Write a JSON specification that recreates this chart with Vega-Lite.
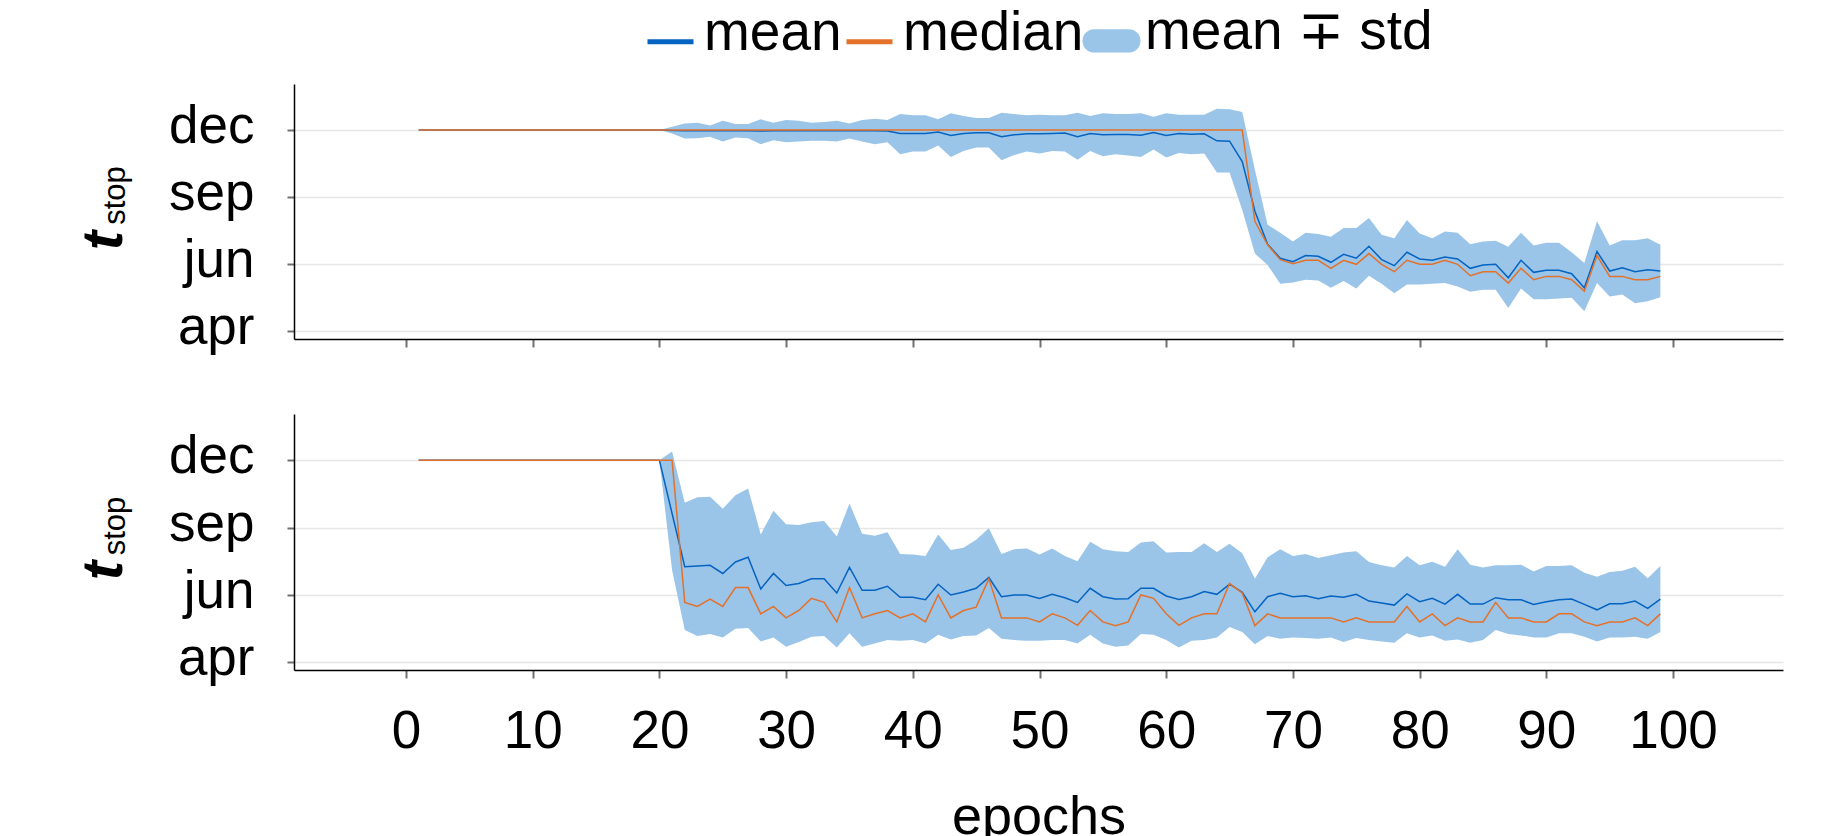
{
"$schema": "https://vega.github.io/schema/vega-lite/v6.json",
"autosize": {"type": "pad"},
"padding": {"left": 75, "top": 13, "right": 5, "bottom": 0},
"background": "white",
"datasets": {
"labels": [{"crop": "meadows"}, {"crop": "winter barley"}],
"stats": [
{"crop":"meadows","epoch":1,"mean":3,"median":3,"lo":3,"hi":3},
{"crop":"meadows","epoch":2,"mean":3,"median":3,"lo":3,"hi":3},
{"crop":"meadows","epoch":3,"mean":3,"median":3,"lo":3,"hi":3},
{"crop":"meadows","epoch":4,"mean":3,"median":3,"lo":3,"hi":3},
{"crop":"meadows","epoch":5,"mean":3,"median":3,"lo":3,"hi":3},
{"crop":"meadows","epoch":6,"mean":3,"median":3,"lo":3,"hi":3},
{"crop":"meadows","epoch":7,"mean":3,"median":3,"lo":3,"hi":3},
{"crop":"meadows","epoch":8,"mean":3,"median":3,"lo":3,"hi":3},
{"crop":"meadows","epoch":9,"mean":3,"median":3,"lo":3,"hi":3},
{"crop":"meadows","epoch":10,"mean":3,"median":3,"lo":3,"hi":3},
{"crop":"meadows","epoch":11,"mean":3,"median":3,"lo":3,"hi":3},
{"crop":"meadows","epoch":12,"mean":3,"median":3,"lo":3,"hi":3},
{"crop":"meadows","epoch":13,"mean":3,"median":3,"lo":3,"hi":3},
{"crop":"meadows","epoch":14,"mean":3,"median":3,"lo":3,"hi":3},
{"crop":"meadows","epoch":15,"mean":3,"median":3,"lo":3,"hi":3},
{"crop":"meadows","epoch":16,"mean":3,"median":3,"lo":3,"hi":3},
{"crop":"meadows","epoch":17,"mean":3,"median":3,"lo":3,"hi":3},
{"crop":"meadows","epoch":18,"mean":3,"median":3,"lo":3,"hi":3},
{"crop":"meadows","epoch":19,"mean":3,"median":3,"lo":3,"hi":3},
{"crop":"meadows","epoch":20,"mean":3,"median":3,"lo":3,"hi":3},
{"crop":"meadows","epoch":21,"mean":2.995,"median":3,"lo":2.95,"hi":3.05},
{"crop":"meadows","epoch":22,"mean":2.99,"median":3,"lo":2.875,"hi":3.10},
{"crop":"meadows","epoch":23,"mean":2.99,"median":3,"lo":2.88,"hi":3.11},
{"crop":"meadows","epoch":24,"mean":2.99,"median":3,"lo":2.90,"hi":3.07},
{"crop":"meadows","epoch":25,"mean":2.99,"median":3,"lo":2.83,"hi":3.14},
{"crop":"meadows","epoch":26,"mean":2.99,"median":3,"lo":2.89,"hi":3.09},
{"crop":"meadows","epoch":27,"mean":2.99,"median":3,"lo":2.88,"hi":3.09},
{"crop":"meadows","epoch":28,"mean":2.985,"median":3,"lo":2.79,"hi":3.16},
{"crop":"meadows","epoch":29,"mean":2.99,"median":3,"lo":2.85,"hi":3.11},
{"crop":"meadows","epoch":30,"mean":2.99,"median":3,"lo":2.82,"hi":3.15},
{"crop":"meadows","epoch":31,"mean":2.99,"median":3,"lo":2.83,"hi":3.14},
{"crop":"meadows","epoch":32,"mean":2.99,"median":3,"lo":2.84,"hi":3.11},
{"crop":"meadows","epoch":33,"mean":2.99,"median":3,"lo":2.84,"hi":3.12},
{"crop":"meadows","epoch":34,"mean":2.99,"median":3,"lo":2.83,"hi":3.14},
{"crop":"meadows","epoch":35,"mean":2.99,"median":3,"lo":2.875,"hi":3.10},
{"crop":"meadows","epoch":36,"mean":2.99,"median":3,"lo":2.83,"hi":3.15},
{"crop":"meadows","epoch":37,"mean":2.99,"median":3,"lo":2.79,"hi":3.17},
{"crop":"meadows","epoch":38,"mean":2.985,"median":3,"lo":2.82,"hi":3.15},
{"crop":"meadows","epoch":39,"mean":2.95,"median":3,"lo":2.64,"hi":3.24},
{"crop":"meadows","epoch":40,"mean":2.95,"median":3,"lo":2.68,"hi":3.22},
{"crop":"meadows","epoch":41,"mean":2.95,"median":3,"lo":2.68,"hi":3.22},
{"crop":"meadows","epoch":42,"mean":2.97,"median":3,"lo":2.77,"hi":3.16},
{"crop":"meadows","epoch":43,"mean":2.92,"median":3,"lo":2.60,"hi":3.25},
{"crop":"meadows","epoch":44,"mean":2.95,"median":3,"lo":2.69,"hi":3.21},
{"crop":"meadows","epoch":45,"mean":2.96,"median":3,"lo":2.74,"hi":3.18},
{"crop":"meadows","epoch":46,"mean":2.96,"median":3,"lo":2.74,"hi":3.18},
{"crop":"meadows","epoch":47,"mean":2.90,"median":3,"lo":2.55,"hi":3.26},
{"crop":"meadows","epoch":48,"mean":2.93,"median":3,"lo":2.63,"hi":3.24},
{"crop":"meadows","epoch":49,"mean":2.945,"median":3,"lo":2.68,"hi":3.22},
{"crop":"meadows","epoch":50,"mean":2.945,"median":3,"lo":2.65,"hi":3.23},
{"crop":"meadows","epoch":51,"mean":2.95,"median":3,"lo":2.69,"hi":3.22},
{"crop":"meadows","epoch":52,"mean":2.955,"median":3,"lo":2.68,"hi":3.22},
{"crop":"meadows","epoch":53,"mean":2.90,"median":3,"lo":2.56,"hi":3.26},
{"crop":"meadows","epoch":54,"mean":2.95,"median":3,"lo":2.69,"hi":3.21},
{"crop":"meadows","epoch":55,"mean":2.93,"median":3,"lo":2.61,"hi":3.25},
{"crop":"meadows","epoch":56,"mean":2.935,"median":3,"lo":2.64,"hi":3.24},
{"crop":"meadows","epoch":57,"mean":2.935,"median":3,"lo":2.62,"hi":3.24},
{"crop":"meadows","epoch":58,"mean":2.925,"median":3,"lo":2.60,"hi":3.25},
{"crop":"meadows","epoch":59,"mean":2.965,"median":3,"lo":2.71,"hi":3.20},
{"crop":"meadows","epoch":60,"mean":2.92,"median":3,"lo":2.59,"hi":3.25},
{"crop":"meadows","epoch":61,"mean":2.95,"median":3,"lo":2.66,"hi":3.23},
{"crop":"meadows","epoch":62,"mean":2.94,"median":3,"lo":2.64,"hi":3.23},
{"crop":"meadows","epoch":63,"mean":2.945,"median":3,"lo":2.65,"hi":3.23},
{"crop":"meadows","epoch":64,"mean":2.84,"median":3,"lo":2.37,"hi":3.32},
{"crop":"meadows","epoch":65,"mean":2.835,"median":3,"lo":2.37,"hi":3.31},
{"crop":"meadows","epoch":66,"mean":2.53,"median":3,"lo":1.81,"hi":3.27},
{"crop":"meadows","epoch":67,"mean":1.79,"median":1.64,"lo":1.16,"hi":2.41},
{"crop":"meadows","epoch":68,"mean":1.30,"median":1.29,"lo":0.99,"hi":1.59},
{"crop":"meadows","epoch":69,"mean":1.09,"median":1.07,"lo":0.71,"hi":1.47},
{"crop":"meadows","epoch":70,"mean":1.04,"median":1.01,"lo":0.73,"hi":1.34},
{"crop":"meadows","epoch":71,"mean":1.13,"median":1.06,"lo":0.77,"hi":1.47},
{"crop":"meadows","epoch":72,"mean":1.12,"median":1.06,"lo":0.76,"hi":1.45},
{"crop":"meadows","epoch":73,"mean":1.03,"median":0.94,"lo":0.65,"hi":1.41},
{"crop":"meadows","epoch":74,"mean":1.15,"median":1.06,"lo":0.75,"hi":1.54},
{"crop":"meadows","epoch":75,"mean":1.09,"median":1.00,"lo":0.64,"hi":1.54},
{"crop":"meadows","epoch":76,"mean":1.27,"median":1.16,"lo":0.83,"hi":1.69},
{"crop":"meadows","epoch":77,"mean":1.07,"median":1.00,"lo":0.71,"hi":1.44},
{"crop":"meadows","epoch":78,"mean":0.98,"median":0.89,"lo":0.57,"hi":1.39},
{"crop":"meadows","epoch":79,"mean":1.18,"median":1.06,"lo":0.70,"hi":1.66},
{"crop":"meadows","epoch":80,"mean":1.08,"median":1.00,"lo":0.70,"hi":1.46},
{"crop":"meadows","epoch":81,"mean":1.06,"median":1.00,"lo":0.71,"hi":1.39},
{"crop":"meadows","epoch":82,"mean":1.11,"median":1.06,"lo":0.72,"hi":1.49},
{"crop":"meadows","epoch":83,"mean":1.08,"median":1.00,"lo":0.67,"hi":1.47},
{"crop":"meadows","epoch":84,"mean":0.94,"median":0.83,"lo":0.59,"hi":1.30},
{"crop":"meadows","epoch":85,"mean":0.99,"median":0.89,"lo":0.62,"hi":1.34},
{"crop":"meadows","epoch":86,"mean":1.00,"median":0.89,"lo":0.62,"hi":1.35},
{"crop":"meadows","epoch":87,"mean":0.80,"median":0.72,"lo":0.35,"hi":1.26},
{"crop":"meadows","epoch":88,"mean":1.06,"median":0.94,"lo":0.64,"hi":1.47},
{"crop":"meadows","epoch":89,"mean":0.88,"median":0.77,"lo":0.48,"hi":1.28},
{"crop":"meadows","epoch":90,"mean":0.91,"median":0.82,"lo":0.48,"hi":1.32},
{"crop":"meadows","epoch":91,"mean":0.91,"median":0.82,"lo":0.49,"hi":1.32},
{"crop":"meadows","epoch":92,"mean":0.86,"median":0.77,"lo":0.50,"hi":1.18},
{"crop":"meadows","epoch":93,"mean":0.65,"median":0.60,"lo":0.30,"hi":1.02},
{"crop":"meadows","epoch":94,"mean":1.19,"median":1.13,"lo":0.72,"hi":1.64},
{"crop":"meadows","epoch":95,"mean":0.90,"median":0.82,"lo":0.52,"hi":1.28},
{"crop":"meadows","epoch":96,"mean":0.95,"median":0.82,"lo":0.55,"hi":1.36},
{"crop":"meadows","epoch":97,"mean":0.89,"median":0.77,"lo":0.42,"hi":1.36},
{"crop":"meadows","epoch":98,"mean":0.92,"median":0.77,"lo":0.45,"hi":1.39},
{"crop":"meadows","epoch":99,"mean":0.90,"median":0.82,"lo":0.51,"hi":1.29},
{"crop":"winter barley","epoch":1,"mean":3,"median":3,"lo":3,"hi":3},
{"crop":"winter barley","epoch":2,"mean":3,"median":3,"lo":3,"hi":3},
{"crop":"winter barley","epoch":3,"mean":3,"median":3,"lo":3,"hi":3},
{"crop":"winter barley","epoch":4,"mean":3,"median":3,"lo":3,"hi":3},
{"crop":"winter barley","epoch":5,"mean":3,"median":3,"lo":3,"hi":3},
{"crop":"winter barley","epoch":6,"mean":3,"median":3,"lo":3,"hi":3},
{"crop":"winter barley","epoch":7,"mean":3,"median":3,"lo":3,"hi":3},
{"crop":"winter barley","epoch":8,"mean":3,"median":3,"lo":3,"hi":3},
{"crop":"winter barley","epoch":9,"mean":3,"median":3,"lo":3,"hi":3},
{"crop":"winter barley","epoch":10,"mean":3,"median":3,"lo":3,"hi":3},
{"crop":"winter barley","epoch":11,"mean":3,"median":3,"lo":3,"hi":3},
{"crop":"winter barley","epoch":12,"mean":3,"median":3,"lo":3,"hi":3},
{"crop":"winter barley","epoch":13,"mean":3,"median":3,"lo":3,"hi":3},
{"crop":"winter barley","epoch":14,"mean":3,"median":3,"lo":3,"hi":3},
{"crop":"winter barley","epoch":15,"mean":3,"median":3,"lo":3,"hi":3},
{"crop":"winter barley","epoch":16,"mean":3,"median":3,"lo":3,"hi":3},
{"crop":"winter barley","epoch":17,"mean":3,"median":3,"lo":3,"hi":3},
{"crop":"winter barley","epoch":18,"mean":3,"median":3,"lo":3,"hi":3},
{"crop":"winter barley","epoch":19,"mean":3,"median":3,"lo":3,"hi":3},
{"crop":"winter barley","epoch":20,"mean":3,"median":3,"lo":3,"hi":3},
{"crop":"winter barley","epoch":21,"mean":2.21,"median":3,"lo":1.37,"hi":3.13},
{"crop":"winter barley","epoch":22,"mean":1.42,"median":0.89,"lo":0.48,"hi":2.37},
{"crop":"winter barley","epoch":23,"mean":1.43,"median":0.83,"lo":0.39,"hi":2.45},
{"crop":"winter barley","epoch":24,"mean":1.44,"median":0.94,"lo":0.42,"hi":2.46},
{"crop":"winter barley","epoch":25,"mean":1.32,"median":0.83,"lo":0.37,"hi":2.28},
{"crop":"winter barley","epoch":26,"mean":1.49,"median":1.11,"lo":0.50,"hi":2.48},
{"crop":"winter barley","epoch":27,"mean":1.56,"median":1.11,"lo":0.51,"hi":2.58},
{"crop":"winter barley","epoch":28,"mean":1.09,"median":0.72,"lo":0.31,"hi":1.90},
{"crop":"winter barley","epoch":29,"mean":1.32,"median":0.83,"lo":0.37,"hi":2.25},
{"crop":"winter barley","epoch":30,"mean":1.14,"median":0.66,"lo":0.23,"hi":2.05},
{"crop":"winter barley","epoch":31,"mean":1.17,"median":0.77,"lo":0.30,"hi":2.04},
{"crop":"winter barley","epoch":32,"mean":1.24,"median":0.95,"lo":0.38,"hi":2.08},
{"crop":"winter barley","epoch":33,"mean":1.24,"median":0.89,"lo":0.39,"hi":2.10},
{"crop":"winter barley","epoch":34,"mean":1.03,"median":0.60,"lo":0.22,"hi":1.87},
{"crop":"winter barley","epoch":35,"mean":1.41,"median":1.11,"lo":0.43,"hi":2.36},
{"crop":"winter barley","epoch":36,"mean":1.07,"median":0.66,"lo":0.23,"hi":1.91},
{"crop":"winter barley","epoch":37,"mean":1.07,"median":0.72,"lo":0.28,"hi":1.88},
{"crop":"winter barley","epoch":38,"mean":1.13,"median":0.77,"lo":0.33,"hi":1.93},
{"crop":"winter barley","epoch":39,"mean":0.965,"median":0.66,"lo":0.32,"hi":1.61},
{"crop":"winter barley","epoch":40,"mean":0.965,"median":0.72,"lo":0.33,"hi":1.60},
{"crop":"winter barley","epoch":41,"mean":0.93,"median":0.60,"lo":0.28,"hi":1.58},
{"crop":"winter barley","epoch":42,"mean":1.16,"median":1.00,"lo":0.41,"hi":1.90},
{"crop":"winter barley","epoch":43,"mean":1.00,"median":0.66,"lo":0.34,"hi":1.67},
{"crop":"winter barley","epoch":44,"mean":1.045,"median":0.77,"lo":0.39,"hi":1.70},
{"crop":"winter barley","epoch":45,"mean":1.10,"median":0.82,"lo":0.40,"hi":1.82},
{"crop":"winter barley","epoch":46,"mean":1.26,"median":1.24,"lo":0.51,"hi":1.99},
{"crop":"winter barley","epoch":47,"mean":0.975,"median":0.66,"lo":0.35,"hi":1.61},
{"crop":"winter barley","epoch":48,"mean":1.00,"median":0.66,"lo":0.33,"hi":1.68},
{"crop":"winter barley","epoch":49,"mean":1.00,"median":0.66,"lo":0.32,"hi":1.69},
{"crop":"winter barley","epoch":50,"mean":0.95,"median":0.60,"lo":0.32,"hi":1.60},
{"crop":"winter barley","epoch":51,"mean":1.01,"median":0.72,"lo":0.33,"hi":1.69},
{"crop":"winter barley","epoch":52,"mean":0.96,"median":0.66,"lo":0.33,"hi":1.58},
{"crop":"winter barley","epoch":53,"mean":0.89,"median":0.55,"lo":0.28,"hi":1.50},
{"crop":"winter barley","epoch":54,"mean":1.10,"median":0.77,"lo":0.41,"hi":1.79},
{"crop":"winter barley","epoch":55,"mean":0.975,"median":0.60,"lo":0.28,"hi":1.68},
{"crop":"winter barley","epoch":56,"mean":0.94,"median":0.545,"lo":0.23,"hi":1.65},
{"crop":"winter barley","epoch":57,"mean":0.945,"median":0.60,"lo":0.25,"hi":1.64},
{"crop":"winter barley","epoch":58,"mean":1.10,"median":1.00,"lo":0.42,"hi":1.78},
{"crop":"winter barley","epoch":59,"mean":1.10,"median":0.95,"lo":0.41,"hi":1.80},
{"crop":"winter barley","epoch":60,"mean":0.985,"median":0.72,"lo":0.33,"hi":1.63},
{"crop":"winter barley","epoch":61,"mean":0.935,"median":0.55,"lo":0.22,"hi":1.64},
{"crop":"winter barley","epoch":62,"mean":0.975,"median":0.66,"lo":0.32,"hi":1.64},
{"crop":"winter barley","epoch":63,"mean":1.05,"median":0.72,"lo":0.33,"hi":1.77},
{"crop":"winter barley","epoch":64,"mean":1.01,"median":0.72,"lo":0.37,"hi":1.64},
{"crop":"winter barley","epoch":65,"mean":1.16,"median":1.17,"lo":0.525,"hi":1.76},
{"crop":"winter barley","epoch":66,"mean":1.04,"median":1.03,"lo":0.45,"hi":1.62},
{"crop":"winter barley","epoch":67,"mean":0.75,"median":0.545,"lo":0.27,"hi":1.24},
{"crop":"winter barley","epoch":68,"mean":0.975,"median":0.72,"lo":0.39,"hi":1.56},
{"crop":"winter barley","epoch":69,"mean":1.025,"median":0.66,"lo":0.35,"hi":1.68},
{"crop":"winter barley","epoch":70,"mean":0.975,"median":0.66,"lo":0.37,"hi":1.58},
{"crop":"winter barley","epoch":71,"mean":0.99,"median":0.66,"lo":0.36,"hi":1.61},
{"crop":"winter barley","epoch":72,"mean":0.945,"median":0.66,"lo":0.35,"hi":1.55},
{"crop":"winter barley","epoch":73,"mean":0.985,"median":0.66,"lo":0.37,"hi":1.59},
{"crop":"winter barley","epoch":74,"mean":0.965,"median":0.60,"lo":0.30,"hi":1.63},
{"crop":"winter barley","epoch":75,"mean":1.01,"median":0.66,"lo":0.36,"hi":1.65},
{"crop":"winter barley","epoch":76,"mean":0.91,"median":0.60,"lo":0.33,"hi":1.49},
{"crop":"winter barley","epoch":77,"mean":0.88,"median":0.60,"lo":0.31,"hi":1.44},
{"crop":"winter barley","epoch":78,"mean":0.85,"median":0.60,"lo":0.29,"hi":1.41},
{"crop":"winter barley","epoch":79,"mean":1.015,"median":0.83,"lo":0.43,"hi":1.58},
{"crop":"winter barley","epoch":80,"mean":0.90,"median":0.60,"lo":0.37,"hi":1.44},
{"crop":"winter barley","epoch":81,"mean":0.95,"median":0.72,"lo":0.40,"hi":1.495},
{"crop":"winter barley","epoch":82,"mean":0.865,"median":0.545,"lo":0.32,"hi":1.42},
{"crop":"winter barley","epoch":83,"mean":1.01,"median":0.66,"lo":0.34,"hi":1.68},
{"crop":"winter barley","epoch":84,"mean":0.865,"median":0.60,"lo":0.29,"hi":1.45},
{"crop":"winter barley","epoch":85,"mean":0.865,"median":0.60,"lo":0.33,"hi":1.41},
{"crop":"winter barley","epoch":86,"mean":0.96,"median":0.89,"lo":0.48,"hi":1.44},
{"crop":"winter barley","epoch":87,"mean":0.93,"median":0.66,"lo":0.42,"hi":1.44},
{"crop":"winter barley","epoch":88,"mean":0.93,"median":0.66,"lo":0.40,"hi":1.45},
{"crop":"winter barley","epoch":89,"mean":0.86,"median":0.60,"lo":0.37,"hi":1.35},
{"crop":"winter barley","epoch":90,"mean":0.90,"median":0.60,"lo":0.37,"hi":1.43},
{"crop":"winter barley","epoch":91,"mean":0.93,"median":0.72,"lo":0.43,"hi":1.43},
{"crop":"winter barley","epoch":92,"mean":0.94,"median":0.72,"lo":0.43,"hi":1.44},
{"crop":"winter barley","epoch":93,"mean":0.86,"median":0.60,"lo":0.38,"hi":1.33},
{"crop":"winter barley","epoch":94,"mean":0.78,"median":0.545,"lo":0.31,"hi":1.27},
{"crop":"winter barley","epoch":95,"mean":0.87,"median":0.60,"lo":0.37,"hi":1.34},
{"crop":"winter barley","epoch":96,"mean":0.87,"median":0.60,"lo":0.37,"hi":1.36},
{"crop":"winter barley","epoch":97,"mean":0.91,"median":0.66,"lo":0.38,"hi":1.42},
{"crop":"winter barley","epoch":98,"mean":0.80,"median":0.545,"lo":0.35,"hi":1.25},
{"crop":"winter barley","epoch":99,"mean":0.94,"median":0.72,"lo":0.45,"hi":1.43}
]
},
"data": {"name": "stats"},
"config": {
  "font": "Liberation Sans",
  "view": {"stroke": null},
  "axis": {
    "labelFont": "Liberation Sans", "labelFontSize": 53, "labelColor": "black",
    "titleFont": "Liberation Sans", "titleFontSize": 54, "titleFontWeight": "normal", "titleColor": "black",
    "domainColor": "black", "domainWidth": 1.5,
    "tickColor": "#707070", "tickWidth": 2, "tickSize": 8,
    "gridColor": "#e6e6e6", "gridWidth": 1.5
  },
  "legend": {
    "orient": "none", "legendX": 349, "legendY": -71, "direction": "horizontal",
    "labelFont": "Liberation Sans", "labelFontSize": 55, "labelColor": "black", "labelLimit": 1000,
    "labelBaseline": "alphabetic",
    "symbolType": "stroke", "symbolSize": 2116, "symbolStrokeWidth": 5,
    "labelOffset": 6, "columnPadding": -14, "padding": 0
  }
},
"spacing": 75,
"bounds": "flush",
"vconcat": [
{
  "width": 1489, "height": 255,
  "title": {"text": "stop", "orient": "left", "anchor": "middle", "frame": "group", "fontSize": 31, "fontWeight": "normal", "font": "Liberation Sans", "baseline": "alphabetic", "offset": -81, "dx": 16, "color": "black"},
  "encoding": {
    "x": {"field": "epoch", "type": "quantitative", "scale": {"domain": [-8.84, 108.68], "nice": false, "zero": false},
          "axis": {"values": [0,10,20,30,40,50,60,70,80,90,100], "labels": false, "title": null, "grid": false}}
  },
  "layer": [
    {
      "transform": [{"filter": "datum.crop === 'meadows'"}],
      "mark": {"type": "area", "opacity": 1},
      "encoding": {
        "y": {"field": "lo", "type": "quantitative", "scale": {"domain": [-0.113, 3.687], "nice": false, "zero": false},
              "axis": {"values": [0,1,2,3], "labelExpr": "['apr','jun','sep','dec'][datum.value]", "grid": true,
                       "tickSize": 7, "labelPadding": 33, "labelBaseline": "alphabetic", "labelOffset": 12.5,
                       "title": "t", "titleFontStyle": "italic", "titleFontWeight": "bold", "titleFontSize": 58,
                       "titleAngle": 270, "titleAlign": "center", "titleBaseline": "alphabetic", "titleX": -173, "titleY": 156,
                       "encode": {"labels": {"update": {"dy": {"signal": "datum.value == 3 ? 5.5 : datum.value == 2 ? -3 : datum.value == 1 ? 1.5 : -4.5"}}}}}},
        "y2": {"field": "hi"},
        "color": {"datum": "mean ∓ std", "type": "nominal",
                  "scale": {"domain": ["mean", "median", "mean ∓ std"], "range": ["#0563c1", "#e3712a", "#9ac5e9"]},
                  "legend": {"title": null,
                    "encode": {
                      "labels": {"update": {"dy": {"value": 8}}},
                      "symbols": {"update": {
                      "stroke": {"scale": "color", "field": "value"},
                      "shape": {"signal": "datum.value === 'mean ∓ std' ? 'M-0.75,-0.38L0.75,-0.38A0.38,0.38,0,0,1,0.75,0.38L-0.75,0.38A0.38,0.38,0,0,1,-0.75,-0.38Z' : 'stroke'"},
                      "fill": {"signal": "datum.value === 'mean ∓ std' ? '#d2e5f6' : 'transparent'"},
                      "strokeWidth": {"signal": "datum.value === 'mean ∓ std' ? 6 : 5"}}}}}}
      }
    },
    {
      "transform": [{"filter": "datum.crop === 'meadows'"}, {"fold": ["mean", "median"], "as": ["series", "value"]}],
      "mark": {"type": "line", "strokeWidth": 1.5},
      "encoding": {
        "y": {"field": "value", "type": "quantitative"},
        "color": {"field": "series", "type": "nominal",
                  "legend": {"title": null,
                    "encode": {
                      "labels": {"update": {"dy": {"value": 8}}},
                      "symbols": {"update": {
                      "stroke": {"scale": "color", "field": "value"},
                      "shape": {"signal": "datum.value === 'mean ∓ std' ? 'M-0.75,-0.38L0.75,-0.38A0.38,0.38,0,0,1,0.75,0.38L-0.75,0.38A0.38,0.38,0,0,1,-0.75,-0.38Z' : 'stroke'"},
                      "fill": {"signal": "datum.value === 'mean ∓ std' ? '#d2e5f6' : 'transparent'"},
                      "strokeWidth": {"signal": "datum.value === 'mean ∓ std' ? 6 : 5"}}}}}}
      }
    },
    {
      "data": {"name": "labels"},
      "transform": [{"filter": "datum.crop === 'meadows'"}],
      "mark": {"type": "text", "align": "left", "baseline": "alphabetic", "fontSize": 54, "font": "Liberation Sans", "color": "black", "clip": false},
      "encoding": {"x": {"datum": -5.84, "type": "quantitative"}, "y": {"datum": 3.2, "type": "quantitative"}, "text": {"field": "crop"}}
    }
  ]
},
{
  "width": 1489, "height": 256,
  "title": {"text": "stop", "orient": "left", "anchor": "middle", "frame": "group", "fontSize": 31, "fontWeight": "normal", "font": "Liberation Sans", "baseline": "alphabetic", "offset": -81, "dx": 16, "color": "black"},
  "encoding": {
    "x": {"field": "epoch", "type": "quantitative", "scale": {"domain": [-8.84, 108.68], "nice": false, "zero": false},
          "axis": {"values": [0,10,20,30,40,50,60,70,80,90,100], "grid": false, "labelBaseline": "alphabetic", "labelPadding": 69,
                   "title": "epochs", "titleBaseline": "alphabetic", "titleX": 744.5, "titleY": 163, "titleAlign": "center"}}
  },
  "layer": [
    {
      "transform": [{"filter": "datum.crop === 'winter barley'"}],
      "mark": {"type": "area", "opacity": 1},
      "encoding": {
        "y": {"field": "lo", "type": "quantitative", "scale": {"domain": [-0.114, 3.688], "nice": false, "zero": false},
              "axis": {"values": [0,1,2,3], "labelExpr": "['apr','jun','sep','dec'][datum.value]", "grid": true,
                       "tickSize": 7, "labelPadding": 33, "labelBaseline": "alphabetic", "labelOffset": 12.5,
                       "title": "t", "titleFontStyle": "italic", "titleFontWeight": "bold", "titleFontSize": 58,
                       "titleAngle": 270, "titleAlign": "center", "titleBaseline": "alphabetic", "titleX": -173, "titleY": 156,
                       "encode": {"labels": {"update": {"dy": {"signal": "datum.value == 3 ? 5.5 : datum.value == 2 ? -3 : datum.value == 1 ? 1.5 : -4.5"}}}}}},
        "y2": {"field": "hi"},
        "color": {"datum": "mean ∓ std", "type": "nominal",
                  "legend": {"title": null,
                    "encode": {
                      "labels": {"update": {"dy": {"value": 8}}},
                      "symbols": {"update": {
                      "stroke": {"scale": "color", "field": "value"},
                      "shape": {"signal": "datum.value === 'mean ∓ std' ? 'M-0.75,-0.38L0.75,-0.38A0.38,0.38,0,0,1,0.75,0.38L-0.75,0.38A0.38,0.38,0,0,1,-0.75,-0.38Z' : 'stroke'"},
                      "fill": {"signal": "datum.value === 'mean ∓ std' ? '#d2e5f6' : 'transparent'"},
                      "strokeWidth": {"signal": "datum.value === 'mean ∓ std' ? 6 : 5"}}}}}}
      }
    },
    {
      "transform": [{"filter": "datum.crop === 'winter barley'"}, {"fold": ["mean", "median"], "as": ["series", "value"]}],
      "mark": {"type": "line", "strokeWidth": 1.5},
      "encoding": {
        "y": {"field": "value", "type": "quantitative"},
        "color": {"field": "series", "type": "nominal",
                  "legend": {"title": null,
                    "encode": {
                      "labels": {"update": {"dy": {"value": 8}}},
                      "symbols": {"update": {
                      "stroke": {"scale": "color", "field": "value"},
                      "shape": {"signal": "datum.value === 'mean ∓ std' ? 'M-0.75,-0.38L0.75,-0.38A0.38,0.38,0,0,1,0.75,0.38L-0.75,0.38A0.38,0.38,0,0,1,-0.75,-0.38Z' : 'stroke'"},
                      "fill": {"signal": "datum.value === 'mean ∓ std' ? '#d2e5f6' : 'transparent'"},
                      "strokeWidth": {"signal": "datum.value === 'mean ∓ std' ? 6 : 5"}}}}}}
      }
    },
    {
      "data": {"name": "labels"},
      "transform": [{"filter": "datum.crop === 'winter barley'"}],
      "mark": {"type": "text", "align": "left", "baseline": "alphabetic", "fontSize": 54, "font": "Liberation Sans", "color": "black", "clip": false},
      "encoding": {"x": {"datum": -5.84, "type": "quantitative"}, "y": {"datum": 3.217, "type": "quantitative"}, "text": {"field": "crop"}}
    }
  ]
}
]
}
